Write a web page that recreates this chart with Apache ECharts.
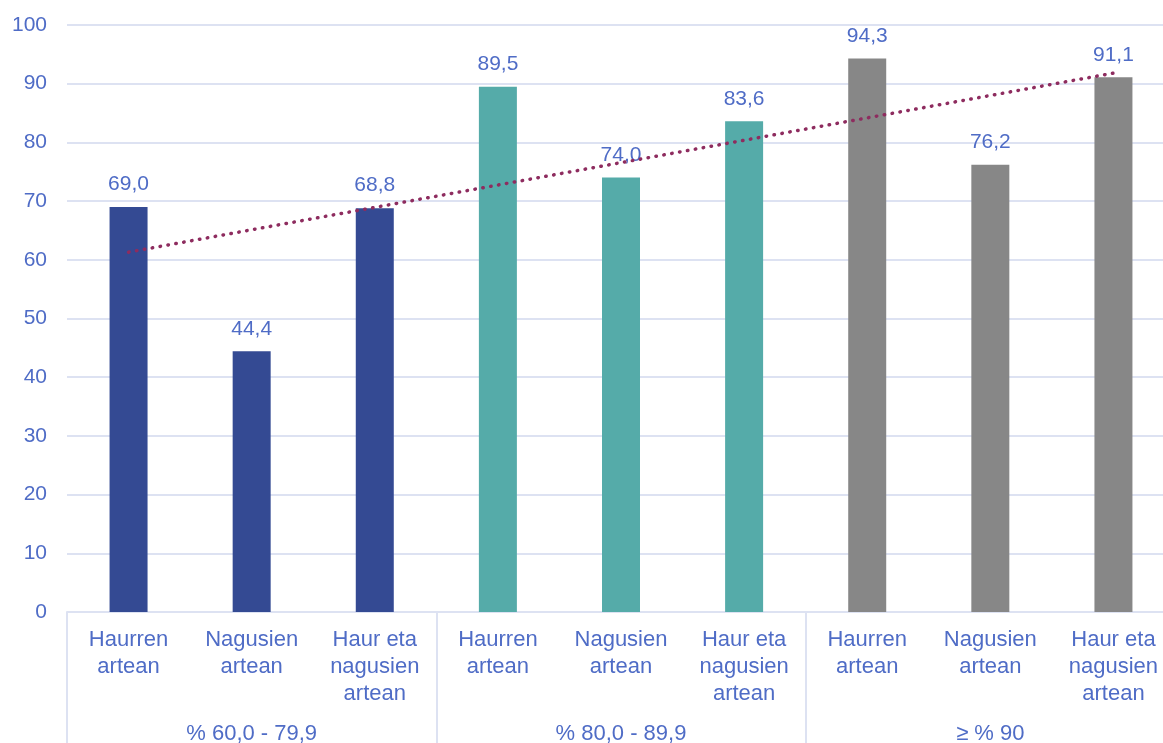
<!DOCTYPE html>
<html>
<head>
<meta charset="utf-8">
<script src="https://cdn.jsdelivr.net/npm/echarts@6/dist/echarts.min.js"></script>
<style>
  html, body { margin: 0; padding: 0; background: #fff; }
  #chart { width: 1163px; height: 743px; }
</style>
</head>
<body>
<div id="chart"></div>
<script>
var categories = ['Haurren\nartean', 'Nagusien\nartean', 'Haur eta\nnagusien\nartean',
                  'Haurren\nartean', 'Nagusien\nartean', 'Haur eta\nnagusien\nartean',
                  'Haurren\nartean', 'Nagusien\nartean', 'Haur eta\nnagusien\nartean'];
var groups = ['% 60,0 - 79,9', '% 80,0 - 89,9', '≥ % 90'];
var values = [69.0, 44.4, 68.8, 89.5, 74.0, 83.6, 94.3, 76.2, 91.1];
var groupOfBar = [0, 0, 0, 1, 1, 1, 2, 2, 2];
// trend line: start and end
var trendValues = [61.3, null, null, null, null, null, null, null, 91.8];

var groupColors = ['#344a93', '#55aba9', '#878787'];
var textColor = '#4f6cc6';
var gridColor = '#dde2f2';
var font = 'Liberation Sans, Arial, sans-serif';

var myChart = echarts.init(document.getElementById('chart'));

var option = {
    backgroundColor: '#ffffff',
    animation: false,
    grid: { left: 67, top: 25, bottom: 131, right: -12, containLabel: false, outerBoundsMode: 'none' },
    xAxis: [{
        type: 'category',
        data: categories,
        axisLine: { show: true, lineStyle: { color: gridColor, width: 2 } },
        axisTick: { show: false },
        axisLabel: {
            interval: 0,
            margin: 14,
            color: textColor,
            fontSize: 22,
            fontFamily: font,
            lineHeight: 27
        }
    }, {
        type: 'category',
        data: groups,
        position: 'bottom',
        offset: 135,
        axisLine: { show: false },
        axisTick: { show: true, inside: true, length: 135, lineStyle: { color: gridColor, width: 2 } },
        axisLabel: {
            inside: true,
            margin: 2,
            color: textColor,
            fontSize: 22,
            fontFamily: font
        }
    }],
    yAxis: {
        type: 'value',
        min: 0,
        max: 100,
        interval: 10,
        axisLine: { show: false },
        axisTick: { show: false },
        axisLabel: { color: textColor, fontSize: 21, fontFamily: font, margin: 20 },
        splitLine: { lineStyle: { color: gridColor, width: 2 } }
    },
    series: [{
        type: 'bar',
        barWidth: 38,
        data: values.map(function (v, i) {
            return { value: v, itemStyle: { color: groupColors[groupOfBar[i]] } };
        }),
        label: {
            show: true,
            position: 'top',
            distance: 12,
            color: textColor,
            fontSize: 21,
            fontFamily: font,
            formatter: function (p) { return p.value.toFixed(1).replace('.', ','); }
        }
    }, {
        type: 'line',
        data: trendValues,
        connectNulls: true,
        symbol: 'none',
        z: 5,
        lineStyle: { color: '#8e2c5f', width: 3.5, type: [0.5, 7.5], cap: 'round' }
    }]
};

myChart.setOption(option);
</script>
</body>
</html>
